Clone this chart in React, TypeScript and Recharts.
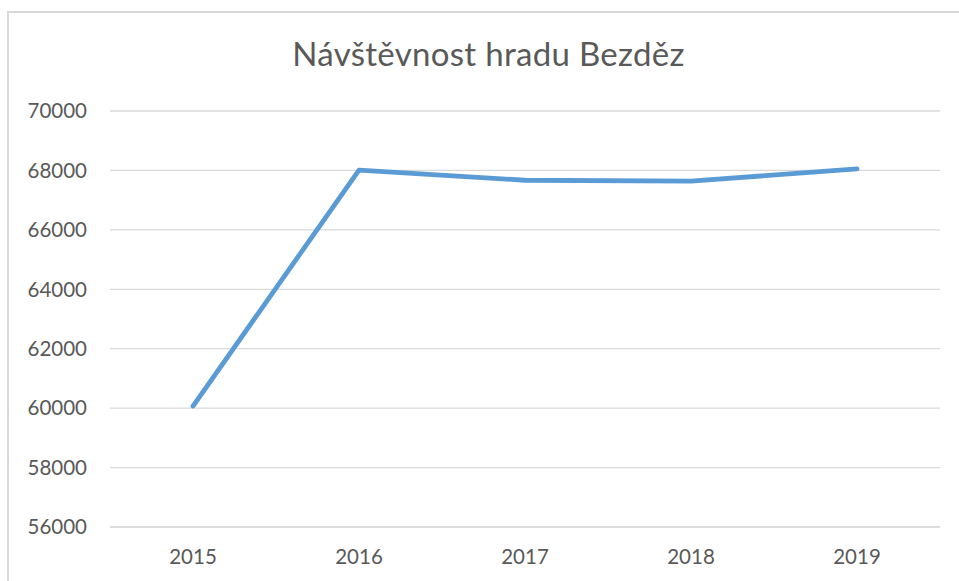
import { LineChart, Line, XAxis, YAxis, CartesianGrid } from 'recharts';

const years = ['2015', '2016', '2017', '2018', '2019'];
const visitors = [60070, 68010, 67670, 67640, 68050];
const yTicks = [56000, 58000, 60000, 62000, 64000, 66000, 68000, 70000];

const TEXT = '#595959';
const GRID = '#d9d9d9';
const FONT = 'Lato, "Open Sans", sans-serif';

const chartData = years.map((year, i) => ({ year, visitors: visitors[i] }));

export default function App() {
  return (
    <div
      style={{
        position: 'absolute',
        left: 0,
        top: 0,
        width: 959,
        height: 581,
        overflow: 'hidden',
        background: '#fff',
        fontFamily: FONT,
      }}
    >
      {/* chart frame, cut off at right and bottom like the screenshot */}
      <div
        style={{
          position: 'absolute',
          left: 7,
          top: 11,
          width: 980,
          height: 600,
          border: `2px solid ${GRID}`,
          boxSizing: 'border-box',
        }}
      />
      <div
        style={{
          position: 'absolute',
          left: 0,
          top: 33,
          width: 977,
          textAlign: 'center',
          fontSize: 33,
          letterSpacing: 0.3,
          color: TEXT,
          lineHeight: '40px',
        }}
      >
        Návštěvnost hradu Bezděz
      </div>
      <div style={{ position: 'absolute', left: 0, top: 0 }}>
        <LineChart
          width={959}
          height={581}
          data={chartData}
          margin={{ top: 111, right: 19, bottom: 0, left: 0 }}
        >
          <CartesianGrid horizontal vertical={false} stroke={GRID} strokeWidth={1.3} />
          <XAxis
            dataKey="year"
            padding={{ left: 83, right: 83 }}
            axisLine={{ stroke: GRID, strokeWidth: 1.3 }}
            tickLine={false}
            tickSize={0}
            tickMargin={22}
            height={54}
            tick={{ fill: TEXT, fontSize: 20.5, fontFamily: FONT }}
          />
          <YAxis
            domain={[56000, 70000]}
            ticks={yTicks}
            interval={0}
            width={110}
            axisLine={false}
            tickLine={false}
            tickSize={0}
            tickMargin={23}
            tick={{ fill: TEXT, fontSize: 20.5, fontFamily: FONT }}
          />
          <Line
            type="linear"
            dataKey="visitors"
            stroke="#5b9bd5"
            strokeWidth={4.8}
            strokeLinecap="round"
            strokeLinejoin="round"
            dot={false}
            activeDot={false}
            isAnimationActive={false}
          />
        </LineChart>
      </div>
    </div>
  );
}
